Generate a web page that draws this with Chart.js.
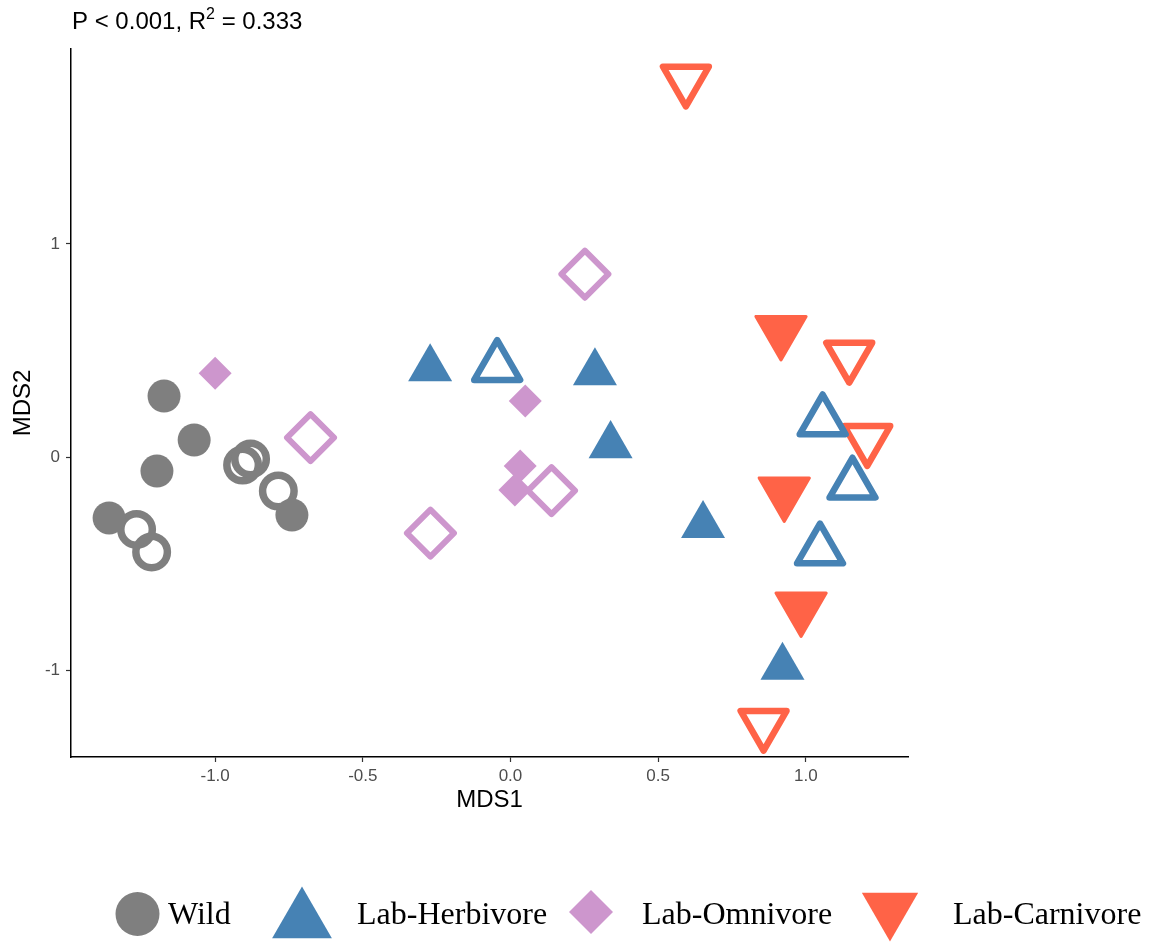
<!DOCTYPE html>
<html>
<head>
<meta charset="utf-8">
<script src="https://cdn.jsdelivr.net/npm/chart.js@4.4.1/dist/chart.umd.min.js"></script>
<style>
  html, body { margin: 0; padding: 0; background: #fff; }
</style>
</head>
<body>
<canvas id="mdsChart" width="1149" height="944"></canvas>
<script>
// NMDS coordinates, filled and open markers per group
const wildFilledX = [-1.173, -1.071, -1.197, -1.359, -0.740];
const wildFilledY = [0.286, 0.080, -0.066, -0.286, -0.272];
const wildOpenX = [-1.266, -1.215, -0.907, -0.880, -0.786];
const wildOpenY = [-0.340, -0.446, -0.038, -0.009, -0.160];

const herbFilledX = [-0.272, 0.286, 0.339, 0.652, 0.921];
const herbFilledY = [0.415, 0.396, 0.054, -0.321, -0.986];
const herbOpenX = [-0.045, 1.057, 1.158, 1.048];
const herbOpenY = [0.424, 0.169, -0.128, -0.437];

const omniFilledX = [-1.000, 0.050, 0.033, 0.015];
const omniFilledY = [0.393, 0.263, -0.042, -0.155];
const omniOpenX = [-0.677, 0.252, 0.139, -0.271];
const omniOpenY = [0.091, 0.858, -0.158, -0.357];

const carnFilledX = [0.916, 0.927, 0.984];
const carnFilledY = [0.592, -0.166, -0.706];
const carnOpenX = [0.594, 1.147, 1.208, 0.857];
const carnOpenY = [1.770, 0.474, 0.083, -1.254];

const groups = ['Wild', 'Lab-Herbivore', 'Lab-Omnivore', 'Lab-Carnivore'];
const colors = ['#7F7F7F', '#4682B4', '#CD96CD', '#FF6347'];

const xTicks = [-1.0, -0.5, 0.0, 0.5, 1.0];
const yTicks = [-1, 0, 1];

const SANS = "'Liberation Sans', Arial, Helvetica, sans-serif";
const SERIF = "'Liberation Serif', 'Times New Roman', serif";

function pts(xs, ys) {
  return xs.map((x, i) => ({ x: x, y: ys[i] }));
}

function filledSet(label, xs, ys, color, style, radius, rotation, border) {
  return {
    label: label,
    data: pts(xs, ys),
    pointStyle: style,
    pointRadius: radius,
    pointRotation: rotation || 0,
    backgroundColor: color,
    borderColor: color,
    borderWidth: border || 0
  };
}

function openSet(label, xs, ys, color, style, radius, width, rotation) {
  return {
    label: label,
    data: pts(xs, ys),
    pointStyle: style,
    pointRadius: radius,
    pointRotation: rotation || 0,
    backgroundColor: 'rgba(0,0,0,0)',
    borderColor: color,
    borderWidth: width
  };
}

const datasets = [
  filledSet('Wild', wildFilledX, wildFilledY, colors[0], 'circle', 16.5),
  openSet('Wild', wildOpenX, wildOpenY, colors[0], 'circle', 15.75, 7.5),
  filledSet('Lab-Herbivore', herbFilledX, herbFilledY, colors[1], 'triangle', 25.4),
  openSet('Lab-Herbivore', herbOpenX, herbOpenY, colors[1], 'triangle', 26.5, 6.5),
  filledSet('Lab-Omnivore', omniFilledX, omniFilledY, colors[2], 'rectRot', 16.5),
  openSet('Lab-Omnivore', omniOpenX, omniOpenY, colors[2], 'rectRot', 23.5, 6),
  filledSet('Lab-Carnivore', carnFilledX, carnFilledY, colors[3], 'triangle', 29, 180, 3),
  openSet('Lab-Carnivore', carnOpenX, carnOpenY, colors[3], 'triangle', 26.5, 6.5, 180)
];

// round corners on the stroked markers, like the R graphics device
const roundJoins = {
  id: 'roundJoins',
  beforeDatasetsDraw(chart) {
    chart.ctx.save();
    chart.ctx.lineJoin = 'round';
  },
  afterDatasetsDraw(chart) {
    chart.ctx.restore();
  }
};

// title with a superscript, drawn above the plot panel
const titlePlugin = {
  id: 'statsTitle',
  afterDraw(chart) {
    const ctx = chart.ctx;
    const x0 = chart.chartArea.left + 1;
    const base = 29;
    ctx.save();
    ctx.fillStyle = '#000';
    ctx.textBaseline = 'alphabetic';
    ctx.textAlign = 'left';
    ctx.font = '24px ' + SANS;
    let x = x0;
    const a = 'P < 0.001, R';
    ctx.fillText(a, x, base);
    x += ctx.measureText(a).width;
    ctx.font = '16px ' + SANS;
    ctx.fillText('2', x, base - 10);
    x += ctx.measureText('2').width;
    ctx.font = '24px ' + SANS;
    ctx.fillText(' = 0.333', x, base);
    ctx.restore();
  }
};

// legend under the plot, serif labels like the original figure
const legendSymbols = [
  { style: 'circle', radius: 22, rotation: 0, cx: 137.5, cy: 914, tx: 168 },
  { style: 'triangle', radius: 34.5, rotation: 0, cx: 302, cy: 921, tx: 357 },
  { style: 'rectRot', radius: 22, rotation: 0, cx: 591, cy: 912, tx: 642 },
  { style: 'triangle', radius: 32.5, rotation: 180, cx: 890, cy: 909, tx: 953 }
];

const legendPlugin = {
  id: 'groupLegend',
  afterDraw(chart) {
    const ctx = chart.ctx;
    ctx.save();
    legendSymbols.forEach((s, i) => {
      ctx.fillStyle = colors[i];
      ctx.strokeStyle = colors[i];
      Chart.helpers.drawPoint(ctx, {
        pointStyle: s.style,
        radius: s.radius,
        rotation: s.rotation,
        borderWidth: 0
      }, s.cx, s.cy);
      ctx.fillStyle = '#000';
      ctx.font = '32px ' + SERIF;
      ctx.textAlign = 'left';
      ctx.textBaseline = 'alphabetic';
      ctx.fillText(groups[i], s.tx, 924);
    });
    ctx.restore();
  }
};

const ctx = document.getElementById('mdsChart');
const chart = new Chart(ctx, {
  type: 'scatter',
  data: { datasets: datasets },
  options: {
    responsive: false,
    animation: false,
    events: [],
    layout: { padding: { left: 0, top: 49, right: 241, bottom: 0 } },
    plugins: {
      legend: { display: false },
      tooltip: { enabled: false },
      title: { display: false }
    },
    scales: {
      x: {
        type: 'linear',
        min: -1.488,
        max: 1.346,
        afterBuildTicks: (scale) => { scale.ticks = xTicks.map(v => ({ value: v })); },
        afterFit: (scale) => { scale.height = 187; },
        ticks: {
          callback: (v) => Number(v).toFixed(1),
          color: '#4D4D4D',
          font: { family: SANS, size: 17 },
          padding: 4,
          maxRotation: 0
        },
        grid: { drawOnChartArea: false, tickLength: 5, color: '#333333', tickWidth: 1.2 },
        border: { color: '#000', width: 1.5 },
        title: {
          display: true,
          text: 'MDS1',
          color: '#000',
          font: { family: SANS, size: 24 },
          padding: { top: 0, bottom: 129 }
        }
      },
      y: {
        type: 'linear',
        min: -1.408,
        max: 1.915,
        afterBuildTicks: (scale) => { scale.ticks = yTicks.map(v => ({ value: v })); },
        afterFit: (scale) => { scale.width = 71; },
        ticks: {
          callback: (v) => String(v),
          color: '#4D4D4D',
          font: { family: SANS, size: 17 },
          padding: 6
        },
        grid: { drawOnChartArea: false, tickLength: 5, color: '#333333', tickWidth: 1.2 },
        border: { color: '#000', width: 1.5 },
        title: {
          display: true,
          text: 'MDS2',
          color: '#000',
          font: { family: SANS, size: 24 },
          padding: { top: 9, bottom: 0 }
        }
      }
    }
  },
  plugins: [roundJoins, titlePlugin, legendPlugin]
});
</script>
</body>
</html>
